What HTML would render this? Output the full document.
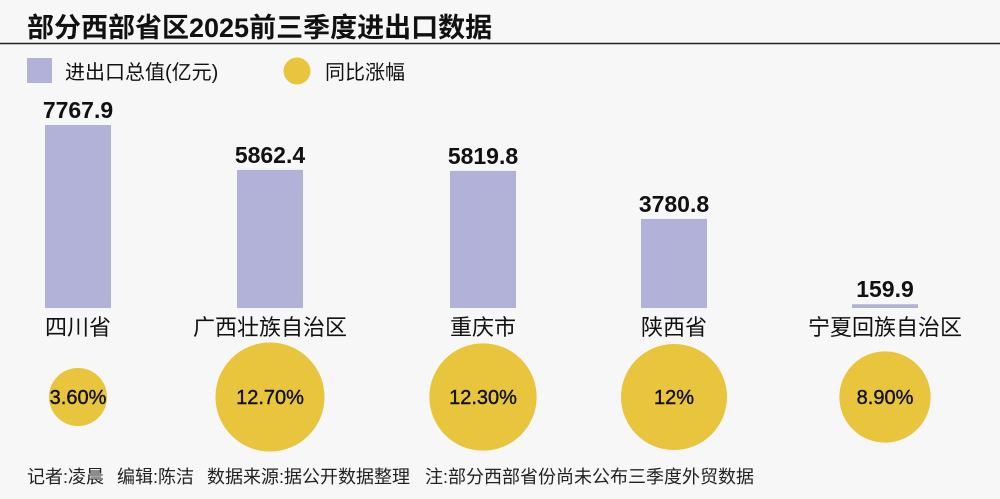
<!DOCTYPE html>
<html><head><meta charset="utf-8"><style>
body{margin:0;width:1000px;height:499px;background:#f7f7f7;overflow:hidden;font-family:"Liberation Sans","Noto Sans CJK SC",sans-serif;}
svg{display:block}
</style></head><body>
<svg width="1000" height="499">
<text x="27" y="37" font-size="27" font-weight="bold" fill="#111">部分西部省区2025前三季度进出口数据</text>
<line x1="0" y1="43.5" x2="1000" y2="43.5" stroke="#222" stroke-width="1.5"/>
<rect x="27" y="58" width="25" height="25" fill="#b2b1d7"/>
<text x="65" y="79" font-size="20" fill="#111">进出口总值(亿元)</text>
<circle cx="297" cy="71" r="13.5" fill="#e8c53d"/>
<text x="325" y="79" font-size="20" fill="#111">同比涨幅</text>
<g id="g"></g>
<text y="483" font-size="18" fill="#222"><tspan x="27">记者:凌晨</tspan><tspan x="117">编辑:陈洁</tspan><tspan x="207">数据来源:据公开数据整理</tspan><tspan x="425">注:部分西部省份尚未公布三季度外贸数据</tspan></text>
</svg>
<script>
const categories=["四川省","广西壮族自治区","重庆市","陕西省","宁夏回族自治区"];
const values=[7767.9,5862.4,5819.8,3780.8,159.9];
const growth=[3.6,12.7,12.3,12,8.9];
const growthLabels=["3.60%","12.70%","12.30%","12%","8.90%"];
const ns="http://www.w3.org/2000/svg",g=document.getElementById('g');
const base=308, yS=v=>v*183/7767.9, rS=v=>15.3*Math.sqrt(v);
function mk(t,a,txt){const e=document.createElementNS(ns,t);for(const k in a)e.setAttribute(k,a[k]);if(txt!=null)e.textContent=txt;g.appendChild(e);return e;}
const xs=[78,270,483,674,885];
categories.forEach((c,i)=>{
 const x=xs[i],h=yS(values[i]);
 let e=mk('rect',{x:x-33,y:base-h,width:66,height:h,fill:'#b2b1d7'});
 
 
 e=mk('text',{x:x,y:base-h-7,'text-anchor':'middle','font-size':23,'font-weight':'bold',fill:'#111'},values[i].toFixed(1));
 
 
 e=mk('text',{x:x,y:335,'text-anchor':'middle','font-size':22,fill:'#111'},c);
 
 
 e=mk('circle',{cx:x,cy:397,r:rS(growth[i]),fill:'#e8c53d'});
 
 
 e=mk('text',{x:x,y:404,'text-anchor':'middle','font-size':20,fill:'#111',stroke:'#111','stroke-width':0.4},growthLabels[i]);
 
 
});
</script>
</body></html>
